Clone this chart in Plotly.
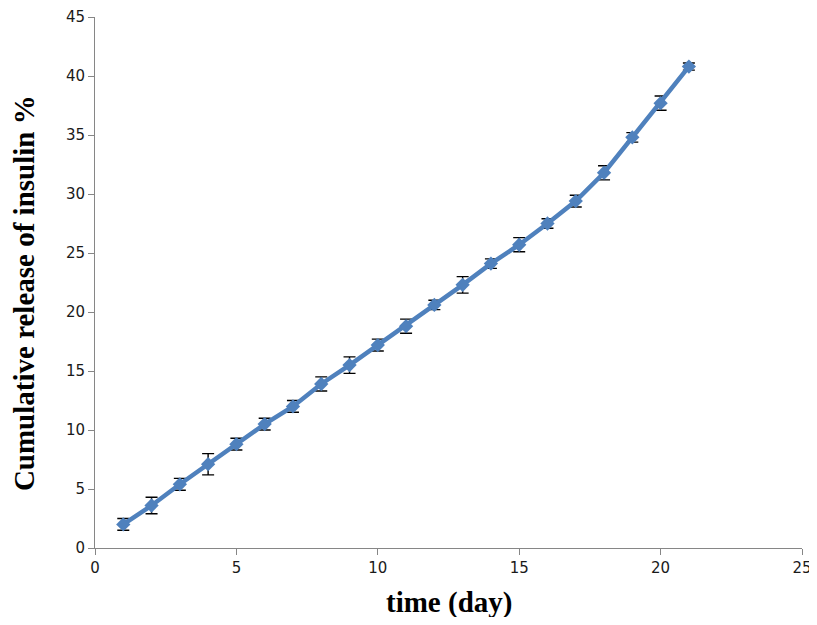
import plotly.graph_objects as go

days = list(range(1, 22))
release = [2.0, 3.6, 5.4, 7.1, 8.8, 10.5, 12.0, 13.9, 15.5, 17.2, 18.8, 20.6, 22.3, 24.1, 25.7,
           27.5, 29.4, 31.8, 34.8, 37.7, 40.8]
err = [0.5, 0.7, 0.5, 0.9, 0.5, 0.5, 0.5, 0.6, 0.7, 0.5, 0.6, 0.4, 0.7, 0.4, 0.6,
       0.4, 0.5, 0.6, 0.4, 0.6, 0.3]

fig = go.Figure()
fig.add_trace(go.Scatter(
    x=days, y=release, mode="lines+markers",
    line=dict(color="#4F81BD", width=4.5),
    marker=dict(symbol="diamond", size=11, color="#4F81BD"),
    error_y=dict(type="data", array=err, visible=True, color="black", thickness=1.4, width=6),
    showlegend=False,
))

axis_common = dict(showgrid=False, zeroline=False, showline=True, linecolor="#868686", linewidth=1,
                   ticks="outside", tickcolor="#868686", ticklen=6, automargin=False,
                   ticklabeloverflow="allow",
                   tickfont=dict(family="DejaVu Sans", size=15, color="#1a1a1a"))

title_font = dict(family="Liberation Serif", size=29, color="black", weight="bold")

fig.update_layout(
    width=809, height=609,
    margin=dict(l=87, r=15, t=9, b=69),
    plot_bgcolor="white", paper_bgcolor="white",
    xaxis=dict(range=[0, 25], dtick=5, **axis_common),
    yaxis=dict(range=[0, 45], dtick=5, **axis_common),
    annotations=[
        dict(text="Cumulative release of insulin %", textangle=-90,
             xref="paper", yref="paper", x=0, y=0.48, xanchor="center", yanchor="middle",
             xshift=-71, showarrow=False, font=title_font),
        dict(text="time (day)", xref="paper", yref="paper", x=0.5, y=0,
             xanchor="center", yanchor="middle", yshift=-54, showarrow=False, font=title_font),
    ],
)

fig.write_html("out.html")
